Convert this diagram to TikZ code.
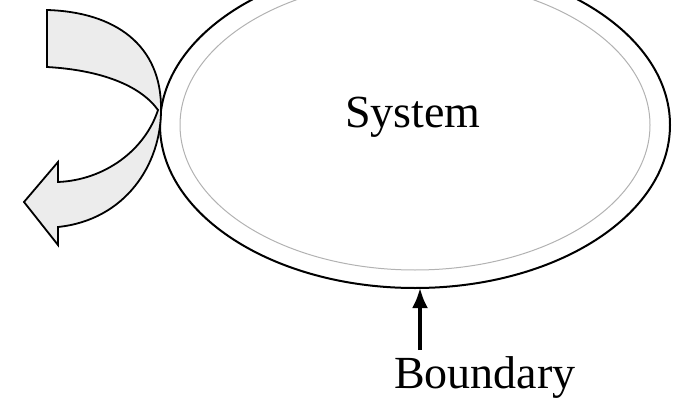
\documentclass[tikz,border=0pt]{standalone}
\usepackage{fontspec}
\setmainfont{Liberation Serif}
\usetikzlibrary{arrows.meta, positioning, shapes.geometric}

\begin{document}
\begin{tikzpicture}[x=0.5pt, y=-0.5pt,
  sysnode/.style = {ellipse, draw, line width=1pt, inner sep=0pt, outer sep=0pt,
    minimum width=255pt, minimum height=163pt},
  innerline/.style = {ellipse, draw=gray!60, line width=0.5pt, inner sep=0pt,
    minimum width=235pt, minimum height=145pt},
  label/.style = {anchor=base, font=\fontsize{23}{27}\selectfont},
  pointer/.style = {line width=1.6pt, -{Latex[length=10pt, width=8pt]}},
  flow/.style = {draw, line width=0.9pt, fill=gray!15, line join=miter}
]
\useasboundingbox (0,0) rectangle (685,401);

\node[sysnode] (sys) at (415,125) {};
\node[innerline] (inner) at (415,125) {};
\node[label] (name) at (413,127) {System};

\node[label] (bnd) at (485,388) {Boundary};
\coordinate (bt) at (420,350);
\draw[pointer] (bt) -- (bt |- sys.south);

% flow crossing the boundary
\path[flow] (47,10) .. controls (115,12) and (162,45) .. (161,110)
  .. controls (161,165) and (125,220) .. (58,227)
  -- (58,245) -- (24,202) -- (58,162) -- (58,182)
  .. controls (105,180) and (145,150) .. (158,110)
  .. controls (140,85) and (100,70) .. (47,67) -- cycle;
\end{tikzpicture}
\end{document}
